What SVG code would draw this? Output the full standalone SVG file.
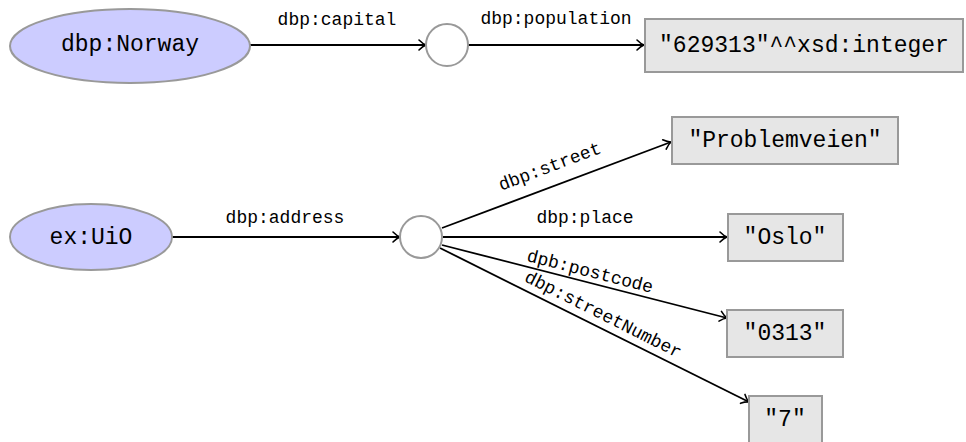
<svg xmlns="http://www.w3.org/2000/svg" width="966" height="442" viewBox="0 0 966 442">
<style>
.res{fill:#ccccff;stroke:#999999;stroke-width:2}
.blank{fill:#ffffff;stroke:#999999;stroke-width:2}
.lit{fill:#e6e6e6;stroke:#999999;stroke-width:2}
.t{font-family:"Liberation Mono","DejaVu Sans Mono",monospace;font-size:23px;fill:#000;text-anchor:middle;dominant-baseline:central}
.l{font-family:"Liberation Mono","DejaVu Sans Mono",monospace;font-size:18px;fill:#000;text-anchor:middle;dominant-baseline:central}
.e{stroke:#000;stroke-width:1.8;fill:none;marker-end:url(#arr)}
</style>
<defs>
<marker id="arr" markerUnits="userSpaceOnUse" markerWidth="14" markerHeight="14" refX="12" refY="7" orient="auto" overflow="visible">
<path d="M5,2 Q9,6 12,7 Q9,8 5,12" fill="none" stroke="#000" stroke-width="1.6" stroke-linecap="round"/>
</marker>
</defs>
<rect width="966" height="442" fill="#ffffff"/>
<g id="edges">
<line class="e" x1="250" y1="45" x2="426" y2="45"/>
<line class="e" x1="468" y1="45" x2="644" y2="45"/>
<line class="e" x1="172" y1="237" x2="400" y2="237"/>
<line class="e" x1="442" y1="228" x2="671" y2="142"/>
<line class="e" x1="443" y1="237" x2="727" y2="237"/>
<line class="e" x1="442" y1="245" x2="727" y2="318"/>
<line class="e" x1="440" y1="248" x2="749" y2="402"/>
<text class="l" x="337" y="20">dbp:capital</text>
<text class="l" x="556" y="19">dbp:population</text>
<text class="l" x="285" y="218">dbp:address</text>
<text class="l" x="585" y="218">dbp:place</text>
<text class="l" transform="translate(550,167) rotate(-20.7)">dbp:street</text>
<text class="l" transform="translate(590,272) rotate(14.4)">dpb:postcode</text>
<text class="l" transform="translate(603,315) rotate(26.7)">dbp:streetNumber</text>
</g>
<g id="norway">
<ellipse class="res" cx="130" cy="46" rx="120" ry="37"/>
<text class="t" x="130" y="45">dbp:Norway</text>
</g>
<g id="blank1">
<circle class="blank" cx="447" cy="45" r="21"/>
</g>
<g id="population">
<rect class="lit" x="645" y="19" width="318" height="53"/>
<text class="t" x="804" y="46">"629313"^^xsd:integer</text>
</g>
<g id="uio">
<ellipse class="res" cx="91" cy="237" rx="81" ry="33"/>
<text class="t" x="91" y="238">ex:UiO</text>
</g>
<g id="blank2">
<circle class="blank" cx="421" cy="237" r="21"/>
</g>
<g id="problemveien">
<rect class="lit" x="672" y="117" width="226" height="47"/>
<text class="t" x="785" y="141">"Problemveien"</text>
</g>
<g id="oslo">
<rect class="lit" x="728" y="214" width="115" height="47"/>
<text class="t" x="785" y="238">"Oslo"</text>
</g>
<g id="postcode">
<rect class="lit" x="727" y="310" width="116" height="47"/>
<text class="t" x="785" y="334">"0313"</text>
</g>
<g id="number">
<rect class="lit" x="749" y="396" width="73" height="47"/>
<text class="t" x="785" y="420">"7"</text>
</g>
</svg>
